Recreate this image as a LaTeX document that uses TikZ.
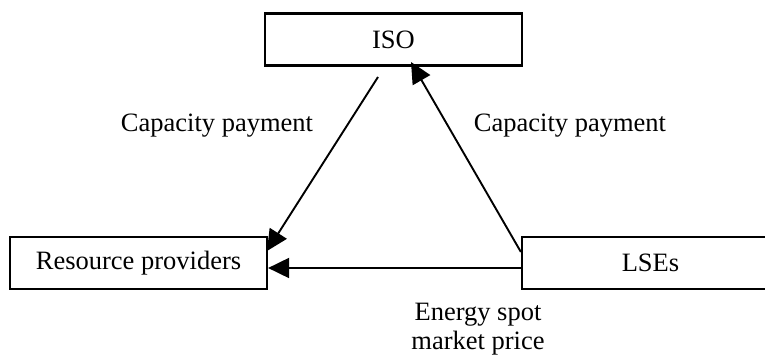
\documentclass[tikz,border=0pt]{standalone}
\usepackage{fontspec}
\setmainfont{Liberation Serif}
\usetikzlibrary{arrows.meta,calc}
\begin{document}
\begin{tikzpicture}[x=1pt,y=1pt,
  box/.style={draw,line width=2.2pt,minimum width=257pt,minimum height=52pt,inner sep=0pt,font=\fontsize{26.5}{30}\selectfont},
  lbl/.style={font=\fontsize{26.5}{29}\selectfont,align=center,inner sep=0pt},
  arr/.style={line width=1.9pt,-{Triangle[length=21pt,width=20pt]}}]
\useasboundingbox (0,0) rectangle (765,356);
\node[box] (iso) at (393.5,316.5) {ISO};
\node[box] (rp) at (138.5,93) {Resource providers};
\node[box] (lse) at (650.5,93) {LSEs};
\coordinate (s1) at (378,279);
\coordinate (t1) at (267,105);
\coordinate (s2) at ($(lse.west)+(0,11)$);
\coordinate (t2) at (411,294);
\draw[arr] (s1) -- (t1);
\draw[arr] (s2) -- (t2);
\draw[arr] ($(lse.west)+(0,-5)$) -- ($(rp.east)+(0,-5)$);
\node[lbl] (l1) at (217,230) {Capacity payment};
\node[lbl] (l2) at (570,230) {Capacity payment};
\node[lbl] (l3) at (478,27) {Energy spot\\market price};
\end{tikzpicture}
\end{document}
